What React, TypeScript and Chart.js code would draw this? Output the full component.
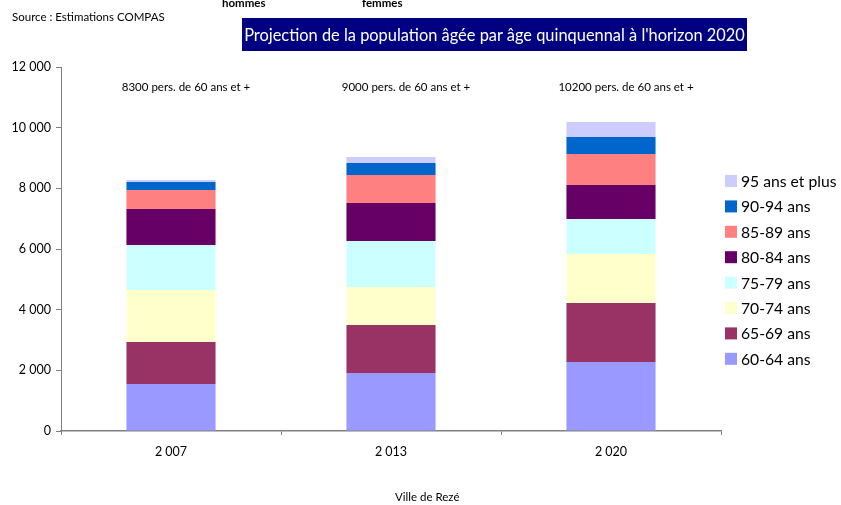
import React, { useEffect, useRef } from "react";
import { Chart, registerables } from "chart.js";

Chart.register(...registerables);

const categories = ["2 007", "2 013", "2 020"];
const seriesNames = [
  "60-64 ans",
  "65-69 ans",
  "70-74 ans",
  "75-79 ans",
  "80-84 ans",
  "85-89 ans",
  "90-94 ans",
  "95 ans et plus",
];
const s6064 = [1550, 1912, 2275];
const s6569 = [1384, 1583, 1945];
const s7074 = [1715, 1253, 1616];
const s7579 = [1483, 1516, 1154];
const s8084 = [1188, 1253, 1121];
const s8589 = [626, 923, 1022];
const s9094 = [264, 396, 560];
const s95p = [65, 198, 495];
const seriesValues = [s6064, s6569, s7074, s7579, s8084, s8589, s9094, s95p];
const seriesColors = [
  "#9999FF",
  "#993366",
  "#FFFFCC",
  "#CCFFFF",
  "#660066",
  "#FF8080",
  "#0066CC",
  "#CCCCFF",
];
const totalLabels = [
  "8300 pers. de 60 ans et +",
  "9000 pers. de 60 ans et +",
  "10200 pers. de 60 ans et +",
];
const yTicks = [0, 2000, 4000, 6000, 8000, 10000, 12000];

const FONT = "Lato, 'Open Sans', sans-serif";

const fmt = (v: number) => String(v).replace(/\B(?=(\d{3})+(?!\d))/g, " ");

const overlayPlugin = {
  id: "overlayPlugin",
  afterDraw(chart: any) {
    const ctx = chart.ctx;
    const xs = chart.scales.x;
    ctx.save();
    ctx.fillStyle = "#000";
    ctx.font = `11.5px ${FONT}`;
    ctx.textAlign = "center";
    ctx.textBaseline = "middle";
    totalLabels.forEach((t, i) => {
      ctx.fillText(t, xs.getPixelForValue(i) + 15, 87);
    });
    const ds = chart.data.datasets;
    ctx.font = `15.7px ${FONT}`;
    ctx.textAlign = "left";
    const n = ds.length;
    for (let k = 0; k < n; k++) {
      const d = ds[n - 1 - k];
      const yc = 181 + k * 25.4;
      ctx.fillStyle = d.backgroundColor;
      ctx.fillRect(725, yc - 6, 12, 12);
      ctx.fillStyle = "#000";
      ctx.fillText(d.label, 741, yc + 1);
    }
    ctx.restore();
  },
};

export default function App() {
  const ref = useRef<HTMLCanvasElement | null>(null);
  useEffect(() => {
    document.body.style.margin = "0";
    if (!ref.current) return;
    const chart = new Chart(ref.current, {
      type: "bar",
      data: {
        labels: categories,
        datasets: seriesNames.map((name, i) => ({
          label: name,
          data: seriesValues[i],
          backgroundColor: seriesColors[i],
          borderWidth: 0,
          barPercentage: 0.81,
          categoryPercentage: 0.5,
        })),
      },
      options: {
        animation: false,
        responsive: false,
        layout: { padding: { top: 67, right: 120, left: 0, bottom: 0 } },
        plugins: { legend: { display: false }, tooltip: { enabled: false } },
        scales: {
          x: {
            stacked: true,
            grid: {
              drawOnChartArea: false,
              tickLength: 4,
              color: "#808080",
              offset: true,
            },
            border: { color: "#808080", width: 1.5 },
            ticks: {
              color: "#000",
              font: { family: FONT, size: 12.5 },
              padding: 9,
            },
            afterFit: (s: any) => {
              s.height = 74;
            },
          },
          y: {
            stacked: true,
            min: 0,
            max: 12000,
            afterBuildTicks: (s: any) => {
              s.ticks = yTicks.map((v) => ({ value: v }));
            },
            grid: { drawOnChartArea: false, tickLength: 5, color: "#808080" },
            border: { color: "#808080", width: 1 },
            ticks: {
              color: "#000",
              font: { family: FONT, size: 12.5 },
              padding: 5,
              callback: (v: any) => fmt(Number(v)),
            },
            afterFit: (s: any) => {
              s.width = 61;
            },
          },
        },
      },
      plugins: [overlayPlugin],
    });
    return () => chart.destroy();
  }, []);

  const txt: React.CSSProperties = {
    position: "absolute",
    fontFamily: FONT,
    color: "#000",
    whiteSpace: "nowrap",
    lineHeight: "1",
  };

  return (
    <div style={{ position: "relative", width: 841, height: 505, overflow: "hidden", background: "#fff" }}>
      <canvas ref={ref} width={841} height={505} style={{ display: "block" }} />
      <div style={{ ...txt, left: 12, top: 11, fontSize: 11.5 }}>Source : Estimations COMPAS</div>
      <div style={{ ...txt, left: 222, top: -3, fontSize: 11.5, fontWeight: "bold" }}>hommes</div>
      <div style={{ ...txt, left: 362, top: -3, fontSize: 11.5, fontWeight: "bold" }}>femmes</div>
      <div
        style={{
          position: "absolute",
          left: 242,
          top: 18,
          width: 505,
          height: 33,
          background: "#000080",
          color: "#fff",
          fontFamily: FONT,
          fontSize: 16.4,
          lineHeight: "33px",
          textAlign: "center",
          whiteSpace: "nowrap",
        }}
      >
        Projection de la population âgée par âge quinquennal à l'horizon 2020
      </div>
      <div style={{ ...txt, left: 395, top: 491, fontSize: 11.5 }}>Ville de Rezé</div>
    </div>
  );
}
